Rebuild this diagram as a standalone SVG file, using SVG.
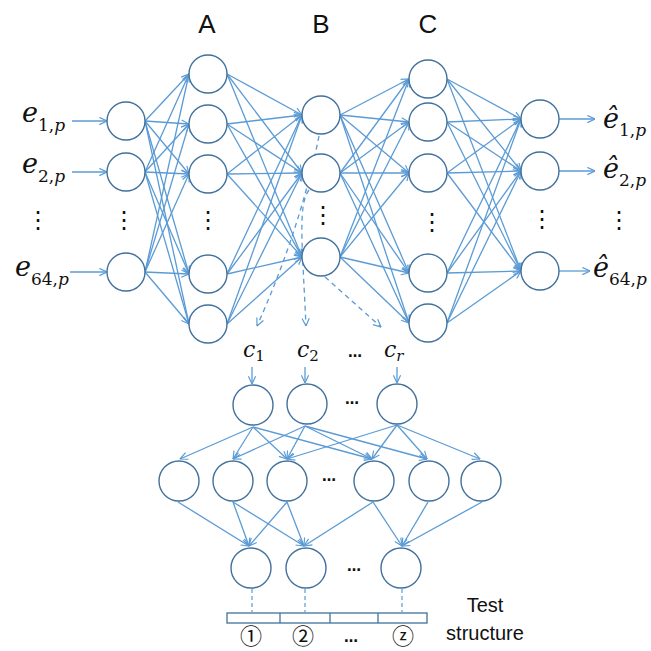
<svg xmlns="http://www.w3.org/2000/svg" width="651" height="651" viewBox="0 0 651 651">
<defs>
<marker id="ah" viewBox="0 0 10 10" refX="9.5" refY="5" markerWidth="9" markerHeight="9" markerUnits="userSpaceOnUse" orient="auto">
<path d="M1,1 L9.5,5 L1,9" fill="none" stroke="#5B9BD5" stroke-width="1.3"/>
</marker>
</defs>
<style>
.n{fill:#fff;stroke:#41719C;stroke-width:1.4}
.c line,.c path{stroke:#5B9BD5;stroke-width:1.3;fill:none;marker-end:url(#ah)}
.c .d{stroke-dasharray:5,4}
.v{stroke:#5B9BD5;stroke-width:1.2;stroke-dasharray:4,3}
.m{font-family:"DejaVu Serif",serif;font-style:italic;fill:#111}
.s{font-family:"Liberation Sans",Arial,sans-serif;fill:#111}
.dt{font-family:"DejaVu Sans",sans-serif;fill:#111;font-weight:bold}
.vd{font-family:"DejaVu Sans",sans-serif;fill:#111;font-size:24px;text-anchor:middle}
.cn{font-family:"Noto Sans CJK SC","DejaVu Sans",sans-serif;fill:#111;font-size:22px;text-anchor:middle}
</style>
<rect width="651" height="651" fill="#fff"/>
<g id="connectors" class="c">
<line x1="72" y1="121" x2="107" y2="121"/>
<line x1="72" y1="172" x2="107" y2="172"/>
<line x1="70" y1="272" x2="107" y2="272"/>
<line x1="145" y1="121" x2="189" y2="74"/><line x1="145" y1="121" x2="189" y2="124"/><line x1="145" y1="121" x2="189" y2="174"/><line x1="145" y1="121" x2="189" y2="274"/><line x1="145" y1="121" x2="189" y2="324"/>
<line x1="145" y1="172" x2="189" y2="74"/><line x1="145" y1="172" x2="189" y2="124"/><line x1="145" y1="172" x2="189" y2="174"/><line x1="145" y1="172" x2="189" y2="274"/><line x1="145" y1="172" x2="189" y2="324"/>
<line x1="145" y1="272" x2="189" y2="74"/><line x1="145" y1="272" x2="189" y2="124"/><line x1="145" y1="272" x2="189" y2="174"/><line x1="145" y1="272" x2="189" y2="274"/><line x1="145" y1="272" x2="189" y2="324"/>
<line x1="227" y1="74" x2="302" y2="115"/><line x1="227" y1="74" x2="302" y2="173"/><line x1="227" y1="74" x2="302" y2="257"/>
<line x1="227" y1="124" x2="302" y2="115"/><line x1="227" y1="124" x2="302" y2="173"/><line x1="227" y1="124" x2="302" y2="257"/>
<line x1="227" y1="174" x2="302" y2="115"/><line x1="227" y1="174" x2="302" y2="173"/><line x1="227" y1="174" x2="302" y2="257"/>
<line x1="227" y1="274" x2="302" y2="115"/><line x1="227" y1="274" x2="302" y2="173"/><line x1="227" y1="274" x2="302" y2="257"/>
<line x1="227" y1="324" x2="302" y2="115"/><line x1="227" y1="324" x2="302" y2="173"/><line x1="227" y1="324" x2="302" y2="257"/>
<line x1="340" y1="115" x2="409" y2="79"/><line x1="340" y1="115" x2="409" y2="122"/><line x1="340" y1="115" x2="409" y2="173"/><line x1="340" y1="115" x2="409" y2="273"/><line x1="340" y1="115" x2="409" y2="323"/>
<line x1="340" y1="173" x2="409" y2="79"/><line x1="340" y1="173" x2="409" y2="122"/><line x1="340" y1="173" x2="409" y2="173"/><line x1="340" y1="173" x2="409" y2="273"/><line x1="340" y1="173" x2="409" y2="323"/>
<line x1="340" y1="257" x2="409" y2="79"/><line x1="340" y1="257" x2="409" y2="122"/><line x1="340" y1="257" x2="409" y2="173"/><line x1="340" y1="257" x2="409" y2="273"/><line x1="340" y1="257" x2="409" y2="323"/>
<line x1="447" y1="79" x2="521" y2="119"/><line x1="447" y1="79" x2="521" y2="171"/><line x1="447" y1="79" x2="521" y2="271"/>
<line x1="447" y1="122" x2="521" y2="119"/><line x1="447" y1="122" x2="521" y2="171"/><line x1="447" y1="122" x2="521" y2="271"/>
<line x1="447" y1="173" x2="521" y2="119"/><line x1="447" y1="173" x2="521" y2="171"/><line x1="447" y1="173" x2="521" y2="271"/>
<line x1="447" y1="273" x2="521" y2="119"/><line x1="447" y1="273" x2="521" y2="171"/><line x1="447" y1="273" x2="521" y2="271"/>
<line x1="447" y1="323" x2="521" y2="119"/><line x1="447" y1="323" x2="521" y2="171"/><line x1="447" y1="323" x2="521" y2="271"/>
<line x1="559" y1="119" x2="595" y2="119"/>
<line x1="559" y1="171" x2="595" y2="171"/>
<line x1="559" y1="271" x2="590" y2="271"/>
<path class="d" d="M319,136 Q300,230 257,326"/>
<path class="d" d="M309,190 C298,205 302,240 306,326"/>
<path class="d" d="M325,277 L381,327"/>
<line x1="252" y1="367" x2="252" y2="384"/>
<line x1="305" y1="367" x2="305" y2="383"/>
<line x1="397" y1="367" x2="397" y2="383"/>
<line x1="253" y1="427" x2="180" y2="459"/><line x1="253" y1="427" x2="233" y2="459"/><line x1="253" y1="427" x2="287" y2="459"/><line x1="253" y1="427" x2="372" y2="459"/>
<line x1="305" y1="426" x2="233" y2="459"/><line x1="305" y1="426" x2="287" y2="459"/><line x1="305" y1="426" x2="372" y2="459"/><line x1="305" y1="426" x2="427" y2="459"/>
<line x1="397" y1="425" x2="287" y2="459"/><line x1="397" y1="425" x2="372" y2="459"/><line x1="397" y1="425" x2="427" y2="459"/><line x1="397" y1="425" x2="480" y2="459"/>
<line x1="178" y1="502" x2="249" y2="546"/>
<line x1="233" y1="502" x2="249" y2="546"/><line x1="233" y1="502" x2="304" y2="546"/>
<line x1="287" y1="502" x2="249" y2="546"/><line x1="287" y1="502" x2="304" y2="546"/>
<line x1="373" y1="502" x2="304" y2="546"/><line x1="373" y1="502" x2="402" y2="546"/>
<line x1="428" y1="502" x2="402" y2="546"/>
<line x1="482" y1="502" x2="402" y2="546"/>
</g>
<g id="test-links">
<line class="v" x1="252" y1="589" x2="252" y2="612"/>
<line class="v" x1="305" y1="589" x2="305" y2="612"/>
<line class="v" x1="402" y1="589" x2="402" y2="612"/>
</g>
<g id="in1"><circle class="n" cx="126" cy="121" r="19"/></g>
<g id="in2"><circle class="n" cx="126" cy="172" r="19"/></g>
<g id="in64"><circle class="n" cx="126" cy="272" r="19"/></g>
<g id="a1"><circle class="n" cx="208" cy="74" r="19"/></g>
<g id="a2"><circle class="n" cx="208" cy="124" r="19"/></g>
<g id="a3"><circle class="n" cx="208" cy="174" r="19"/></g>
<g id="a4"><circle class="n" cx="208" cy="274" r="19"/></g>
<g id="a5"><circle class="n" cx="208" cy="324" r="19"/></g>
<g id="b1"><circle class="n" cx="321" cy="115" r="19"/></g>
<g id="b2"><circle class="n" cx="321" cy="173" r="19"/></g>
<g id="b3"><circle class="n" cx="321" cy="257" r="19"/></g>
<g id="cc1"><circle class="n" cx="428" cy="79" r="19"/></g>
<g id="cc2"><circle class="n" cx="428" cy="122" r="19"/></g>
<g id="cc3"><circle class="n" cx="428" cy="173" r="19"/></g>
<g id="cc4"><circle class="n" cx="428" cy="273" r="19"/></g>
<g id="cc5"><circle class="n" cx="428" cy="323" r="19"/></g>
<g id="o1"><circle class="n" cx="540" cy="119" r="19"/></g>
<g id="o2"><circle class="n" cx="540" cy="171" r="19"/></g>
<g id="o64"><circle class="n" cx="540" cy="271" r="19"/></g>
<g id="r1a"><circle class="n" cx="253" cy="405" r="20"/></g>
<g id="r1b"><circle class="n" cx="307" cy="404" r="20"/></g>
<g id="r1c"><circle class="n" cx="397" cy="404" r="20"/></g>
<g id="r2a"><circle class="n" cx="179" cy="481" r="20"/></g>
<g id="r2b"><circle class="n" cx="233" cy="481" r="20"/></g>
<g id="r2c"><circle class="n" cx="287" cy="481" r="20"/></g>
<g id="r2d"><circle class="n" cx="374" cy="481" r="20"/></g>
<g id="r2e"><circle class="n" cx="429" cy="481" r="20"/></g>
<g id="r2f"><circle class="n" cx="481" cy="481" r="20"/></g>
<g id="r3a"><circle class="n" cx="251" cy="568" r="20"/></g>
<g id="r3b"><circle class="n" cx="306" cy="568" r="20"/></g>
<g id="r3c"><circle class="n" cx="401" cy="568" r="20"/></g>
<g id="test-structure">
<rect x="227" y="613" width="200" height="10" fill="#fff" stroke="#41719C" stroke-width="1.3"/>
<line x1="280" y1="613" x2="280" y2="623" stroke="#41719C" stroke-width="1.3"/>
<line x1="330" y1="613" x2="330" y2="623" stroke="#41719C" stroke-width="1.3"/>
<line x1="378" y1="613" x2="378" y2="623" stroke="#41719C" stroke-width="1.3"/>
<text x="251" y="644" class="cn">①</text>
<text x="303" y="644" class="cn">②</text>
<text x="351" y="642" font-size="14" text-anchor="middle" class="dt">…</text>
<text x="403" y="644" class="cn">ⓩ</text>
<text x="485" y="612" font-size="20" text-anchor="middle" class="s">Test</text>
<text x="485" y="640" font-size="20" text-anchor="middle" class="s">structure</text>
</g>
<g id="labels">
<text x="207" y="33" font-size="26" text-anchor="middle" class="s">A</text>
<text x="321" y="33" font-size="26" text-anchor="middle" class="s">B</text>
<text x="428" y="33" font-size="26" text-anchor="middle" class="s">C</text>
<text x="22" y="122" font-size="27" class="m">e<tspan dy="9" font-size="17" font-style="normal">1,</tspan><tspan font-size="17">p</tspan></text>
<text x="22" y="173" font-size="27" class="m">e<tspan dy="9" font-size="17" font-style="normal">2,</tspan><tspan font-size="17">p</tspan></text>
<text x="15" y="276" font-size="27" class="m">e<tspan dy="9" font-size="17" font-style="normal">64,</tspan><tspan font-size="17">p</tspan></text>
<text x="603" y="128" font-size="27" class="m">ê<tspan dy="8" font-size="17" font-style="normal">1,</tspan><tspan font-size="17">p</tspan></text>
<text x="603" y="178" font-size="27" class="m">ê<tspan dy="8" font-size="17" font-style="normal">2,</tspan><tspan font-size="17">p</tspan></text>
<text x="593" y="277" font-size="27" class="m">ê<tspan dy="8" font-size="17" font-style="normal">64,</tspan><tspan font-size="17">p</tspan></text>
<text x="243" y="357" font-size="22" class="m">c<tspan dy="4" font-size="15" font-style="normal">1</tspan></text>
<text x="297" y="357" font-size="22" class="m">c<tspan dy="4" font-size="15" font-style="normal">2</tspan></text>
<text x="384" y="357" font-size="22" class="m">c<tspan dy="4" font-size="15">r</tspan></text>
<text x="355" y="357" font-size="14" text-anchor="middle" class="dt">…</text>
<text x="352" y="404" font-size="14" text-anchor="middle" class="dt">…</text>
<text x="329" y="481" font-size="14" text-anchor="middle" class="dt">…</text>
<text x="354" y="571" font-size="14" text-anchor="middle" class="dt">…</text>
<text x="38" y="228" class="vd">⋮</text>
<text x="124" y="228" class="vd">⋮</text>
<text x="208" y="228" class="vd">⋮</text>
<text x="323" y="223" class="vd">⋮</text>
<text x="432" y="230" class="vd">⋮</text>
<text x="542" y="227" class="vd">⋮</text>
<text x="619" y="228" class="vd">⋮</text>
</g>
</svg>
